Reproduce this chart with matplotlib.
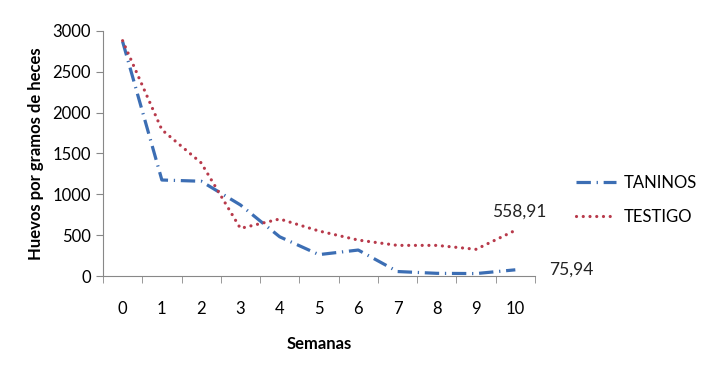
import numpy as np
import matplotlib.pyplot as plt

plt.rcParams['font.family'] = ['Lato', 'DejaVu Sans']

semanas = [0, 1, 2, 3, 4, 5, 6, 7, 8, 9, 10]
taninos = [2870, 1175, 1160, 870, 480, 262, 318, 55, 33, 30, 75.94]
testigo = [2880, 1790, 1385, 583, 698, 551, 440, 375, 375, 327, 558.91]

fig = plt.figure(figsize=(7.2, 3.72), dpi=100)
ax = fig.add_axes([0.143, 0.258, 0.6, 0.659])

ax.plot(semanas, taninos, color='#3C6EB4', lw=2.3, dashes=(4.5, 1.8, 0.4, 1.8),
        label='TANINOS')
ax.plot(semanas, testigo, color='#B83A4B', lw=2.3, dashes=(0.01, 2.1),
        dash_capstyle='round', label='TESTIGO')

ax.text(9.4, 558.91 + 130, '558,91', fontsize=12.5, ha='left', va='bottom', color='#222222')
ax.text(10.85, 75.94, '75,94', fontsize=12.5, ha='left', va='center', color='#222222')

ax.set_xlim(-0.5, 10.5)
ax.set_ylim(0, 3000)
ax.set_yticks(np.arange(0, 3001, 500))
ax.set_xticks(semanas)
ax.set_xticks(np.arange(-0.5, 10.6, 1), minor=True)
ax.tick_params(axis='x', which='major', length=0, pad=18, labelsize=12)
ax.tick_params(axis='x', which='minor', length=5, color='#888888')
ax.tick_params(axis='y', length=5, color='#888888', labelsize=12)

for s in ['top', 'right']:
    ax.spines[s].set_visible(False)
for s in ['left', 'bottom']:
    ax.spines[s].set_color('#888888')

ax.set_xlabel('Semanas', fontsize=12, fontweight='bold', labelpad=14)
ax.set_ylabel('Huevos por gramos de heces', fontsize=12, fontweight='bold', labelpad=6)

ax.legend(loc='center left', bbox_to_anchor=(1.06, 0.31), frameon=False,
          fontsize=12, handlelength=2.4, handletextpad=0.5, labelspacing=1.1)

fig.savefig('out.png', dpi=100)
